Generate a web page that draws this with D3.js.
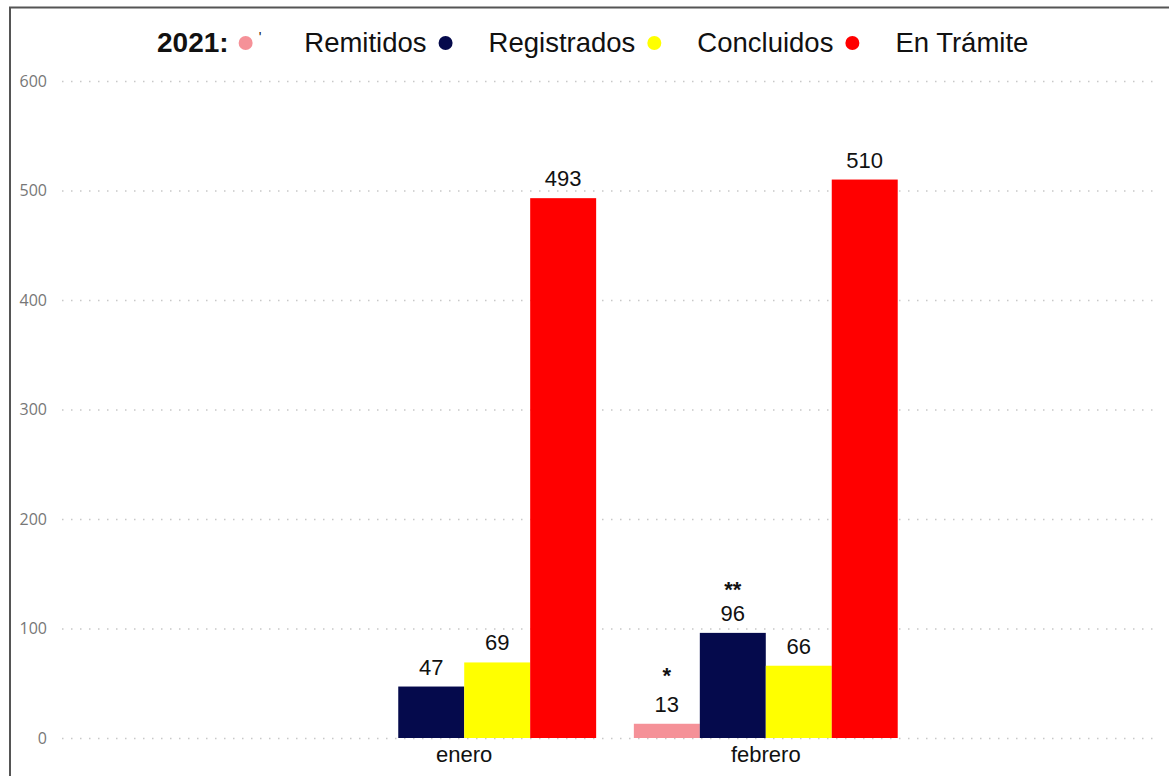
<!DOCTYPE html>
<html>
<head>
<meta charset="utf-8">
<script src="https://cdn.jsdelivr.net/npm/d3@7"></script>
<style>
  body { margin: 0; background: #fff; }
  svg { display: block; }
</style>
</head>
<body>
<svg id="chart" width="1169" height="776"></svg>
<script>
// data
const months = ["enero", "febrero"];
const seriesNames = ["Remitidos", "Registrados", "Concluidos", "En Trámite"];
const seriesColors = ["#f59198", "#050a4c", "#ffff00", "#ff0000"];
const enero = [null, 47, 69, 493];
const febrero = [13, 96, 66, 510];
const notes = { febrero: ["*", "**", "", ""] };
const yTicks = [0, 100, 200, 300, 400, 500, 600];

const svg = d3.select("#chart");
const font = "'Liberation Sans', Arial, sans-serif";

// frame (only left and top edges show in the picture)
svg.append("line").attr("x1", 9).attr("x2", 1169).attr("y1", 7.5).attr("y2", 7.5)
    .attr("stroke", "#555").attr("stroke-width", 2);
svg.append("line").attr("x1", 10).attr("x2", 10).attr("y1", 7).attr("y2", 776)
    .attr("stroke", "#555").attr("stroke-width", 2);

const y = d3.scaleLinear().domain([0, 600]).range([738, 81]);

const x0 = d3.scaleBand().domain(months).range([66, 1164])
    .paddingInner(0.125).paddingOuter(0.883);
const x1 = d3.scaleBand().domain(d3.range(seriesNames.length)).range([0, x0.bandwidth()]);

// gridlines
const grid = svg.append("g");
grid.selectAll("line").data(yTicks).enter().append("line")
    .attr("x1", 62).attr("x2", 1160)
    .attr("y1", d => y(d) + 0.5).attr("y2", d => y(d) + 0.5)
    .attr("stroke", "#c8c8c8").attr("stroke-width", 1.5)
    .attr("stroke-dasharray", "1.5,7.5");

// y axis labels
const yAxis = svg.append("g").attr("transform", "translate(47,0)")
    .call(d3.axisLeft(y).tickValues(yTicks).tickSize(0).tickPadding(0));
yAxis.select(".domain").remove();
yAxis.selectAll("text").attr("fill", "#777").attr("font-size", 16)
    .attr("font-family", "'Open Sans', 'Noto Sans', sans-serif");

// x axis labels
const xAxis = svg.append("g").attr("transform", "translate(0,741)")
    .call(d3.axisBottom(x0).tickSize(0).tickPadding(0));
xAxis.select(".domain").remove();
xAxis.selectAll("text").attr("fill", "#111").attr("font-size", 22)
    .attr("font-family", font).attr("dy", "0.95em");

// bars
const rows = [
    { month: "enero", values: enero },
    { month: "febrero", values: febrero }
];

const groups = svg.selectAll("g.month").data(rows).enter().append("g")
    .attr("class", "month")
    .attr("transform", d => "translate(" + x0(d.month) + ",0)");

const cells = groups.selectAll("g.cell")
    .data(d => d.values.map((v, i) => ({ month: d.month, i: i, v: v })).filter(c => c.v !== null))
    .enter().append("g").attr("class", "cell");

cells.append("rect")
    .attr("x", d => x1(d.i))
    .attr("y", d => y(d.v))
    .attr("width", x1.bandwidth())
    .attr("height", d => y(0) - y(d.v))
    .attr("fill", d => seriesColors[d.i]);

cells.append("text")
    .attr("x", d => x1(d.i) + x1.bandwidth() / 2)
    .attr("y", d => y(d.v) - 12)
    .attr("text-anchor", "middle")
    .attr("font-size", 22).attr("font-family", font).attr("fill", "#111")
    .text(d => d.v);

cells.filter(d => notes[d.month] && notes[d.month][d.i])
    .append("text")
    .attr("x", d => x1(d.i) + x1.bandwidth() / 2)
    .attr("y", d => y(d.v) - (notes[d.month][d.i].length > 1 ? 36 : 41))
    .attr("text-anchor", "middle")
    .attr("font-size", 22).attr("font-weight", "bold").attr("font-family", font).attr("fill", "#111")
    .text(d => notes[d.month][d.i]);

// legend, laid out the way it shows in the picture:
// "2021:"  ● '   Remitidos ●   Registrados ●   Concluidos ●   En Trámite
const legend = svg.append("g").attr("transform", "translate(0,42)");
function legendText(x, s, opts) {
    const t = legend.append("text").attr("x", x).attr("dy", "0.35em")
        .attr("font-size", opts.size || 27.5).attr("font-family", font).attr("fill", "#111")
        .attr("font-weight", opts.bold ? "bold" : "normal")
        .attr("y", opts.dy || 0)
        .text(s);
    return x + t.node().getComputedTextLength();
}
function legendDot(x, c) {
    legend.append("circle").attr("cx", x).attr("cy", 1).attr("r", 7).attr("fill", c);
}

let lx = legendText(157, "2021:", { bold: true, size: 28 });
lx += 17;
legendDot(lx, seriesColors[0]);
lx = legendText(lx + 13, "'", { size: 14, dy: -5 });
lx += 43;
seriesNames.forEach(function (name, i) {
    lx = legendText(lx, name, {});
    if (i + 1 < seriesColors.length) {
        lx += 19;
        legendDot(lx, seriesColors[i + 1]);
        lx += 43;
    }
});
</script>
</body>
</html>
